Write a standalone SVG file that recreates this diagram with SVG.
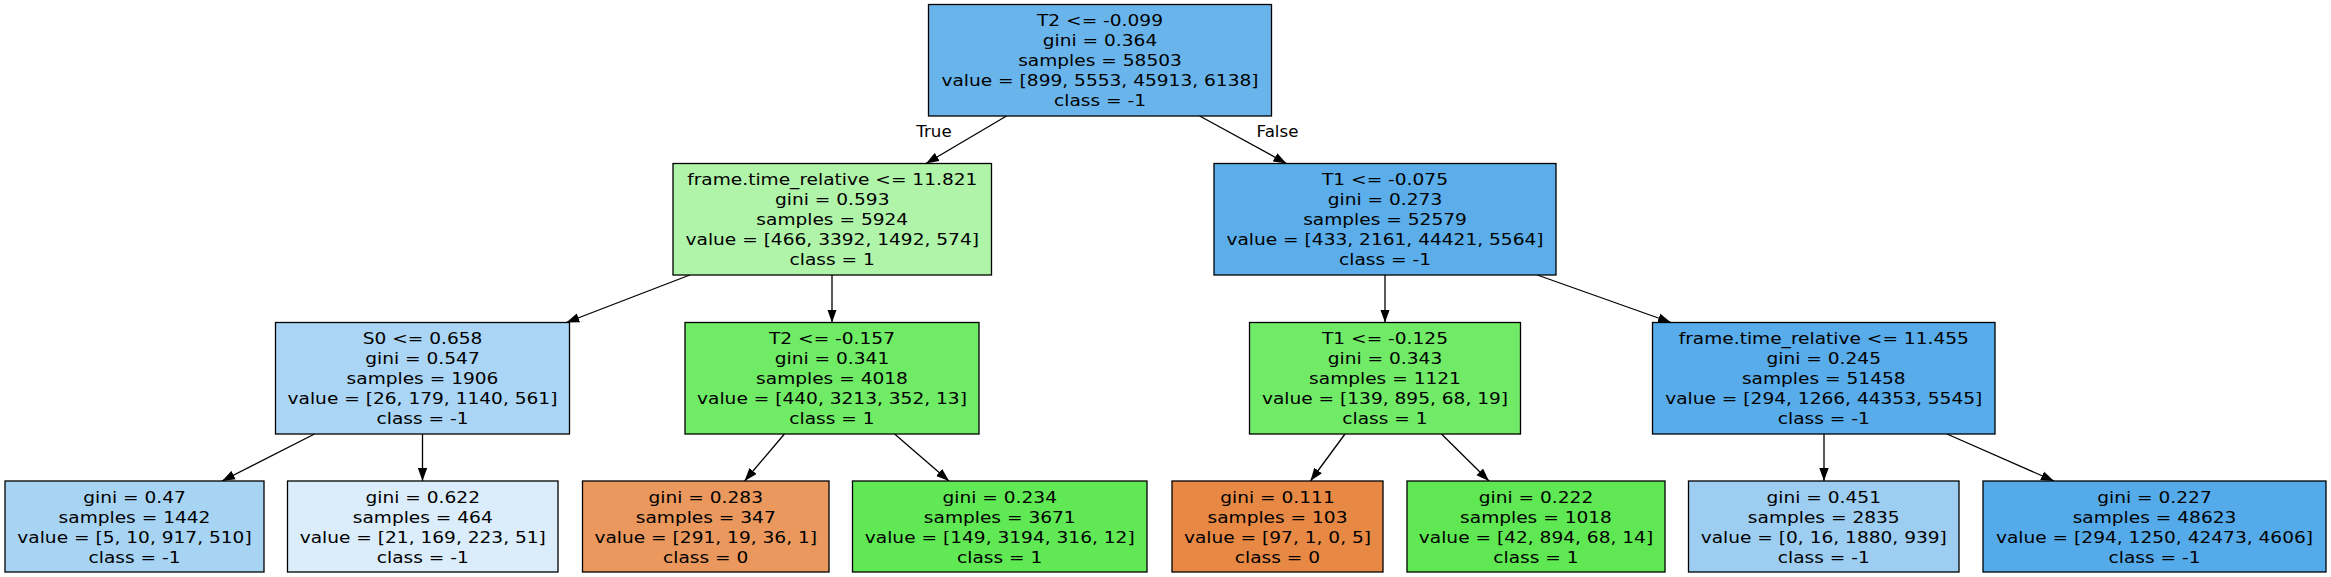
<svg xmlns="http://www.w3.org/2000/svg" width="2331" height="577" viewBox="0 0 2331 577">
<style>
rect.n{stroke:#000;stroke-width:1.3}
text{font-family:"DejaVu Sans","Liberation Sans",sans-serif;font-size:16.67px;text-anchor:middle;fill:#000}
.e line{stroke:#000;stroke-width:1.3;marker-end:url(#ah)}
</style>
<defs>
<marker id="ah" markerUnits="userSpaceOnUse" markerWidth="13" markerHeight="10" refX="13" refY="5" orient="auto" viewBox="0 0 13 10">
<path d="M0,0.3 L13,5 L0,9.7 z" fill="#000"/>
</marker>
</defs>
<rect width="2331" height="577" fill="#fff"/>
<g id="connectors" class="e">
<line x1="1006.5" y1="116" x2="926" y2="163.5"/>
<line x1="1199.7" y1="116" x2="1286.5" y2="163.5"/>
<line x1="689.8" y1="275" x2="566.3" y2="322.5"/>
<line x1="832" y1="275" x2="832" y2="322.5"/>
<line x1="1385" y1="275" x2="1385" y2="322.5"/>
<line x1="1537.3" y1="275" x2="1671" y2="322.5"/>
<line x1="314.5" y1="434" x2="222" y2="481"/>
<line x1="422.5" y1="434" x2="422.5" y2="481"/>
<line x1="784.4" y1="434" x2="744.6" y2="481"/>
<line x1="894.6" y1="434" x2="949" y2="481"/>
<line x1="1345" y1="434" x2="1310.4" y2="481"/>
<line x1="1441.5" y1="434" x2="1489" y2="481"/>
<line x1="1824" y1="434" x2="1824" y2="481"/>
<line x1="1947" y1="434" x2="2054" y2="481"/>
<text x="934" y="136.5">True</text>
<text x="1277.5" y="136.5">False</text>
</g>
<g id="n0">
<rect class="n" x="928.5" y="4.5" width="343" height="111.5" fill="#69b5eb"/>
<g transform="translate(1100,0) scale(1.115,1)">
<text x="0" y="26">T2 &lt;= -0.099</text>
<text x="0" y="46">gini = 0.364</text>
<text x="0" y="66">samples = 58503</text>
<text x="0" y="86">value = [899, 5553, 45913, 6138]</text>
<text x="0" y="106">class = -1</text>
</g>
</g>
<g id="n1">
<rect class="n" x="673" y="163.5" width="318.5" height="111.5" fill="#b0f4aa"/>
<g transform="translate(832.25,0) scale(1.115,1)">
<text x="0" y="185">frame.time_relative &lt;= 11.821</text>
<text x="0" y="205">gini = 0.593</text>
<text x="0" y="225">samples = 5924</text>
<text x="0" y="245">value = [466, 3392, 1492, 574]</text>
<text x="0" y="265">class = 1</text>
</g>
</g>
<g id="n8">
<rect class="n" x="1214" y="163.5" width="342" height="111.5" fill="#5baee9"/>
<g transform="translate(1385,0) scale(1.115,1)">
<text x="0" y="185">T1 &lt;= -0.075</text>
<text x="0" y="205">gini = 0.273</text>
<text x="0" y="225">samples = 52579</text>
<text x="0" y="245">value = [433, 2161, 44421, 5564]</text>
<text x="0" y="265">class = -1</text>
</g>
</g>
<g id="n2">
<rect class="n" x="275.5" y="322.5" width="294" height="111.5" fill="#aad5f4"/>
<g transform="translate(422.5,0) scale(1.115,1)">
<text x="0" y="344">S0 &lt;= 0.658</text>
<text x="0" y="364">gini = 0.547</text>
<text x="0" y="384">samples = 1906</text>
<text x="0" y="404">value = [26, 179, 1140, 561]</text>
<text x="0" y="424">class = -1</text>
</g>
</g>
<g id="n5">
<rect class="n" x="685" y="322.5" width="294" height="111.5" fill="#70eb66"/>
<g transform="translate(832,0) scale(1.115,1)">
<text x="0" y="344">T2 &lt;= -0.157</text>
<text x="0" y="364">gini = 0.341</text>
<text x="0" y="384">samples = 4018</text>
<text x="0" y="404">value = [440, 3213, 352, 13]</text>
<text x="0" y="424">class = 1</text>
</g>
</g>
<g id="n9">
<rect class="n" x="1249.5" y="322.5" width="271" height="111.5" fill="#71eb67"/>
<g transform="translate(1385,0) scale(1.115,1)">
<text x="0" y="344">T1 &lt;= -0.125</text>
<text x="0" y="364">gini = 0.343</text>
<text x="0" y="384">samples = 1121</text>
<text x="0" y="404">value = [139, 895, 68, 19]</text>
<text x="0" y="424">class = 1</text>
</g>
</g>
<g id="n12">
<rect class="n" x="1652.5" y="322.5" width="342.5" height="111.5" fill="#58ace9"/>
<g transform="translate(1823.75,0) scale(1.115,1)">
<text x="0" y="344">frame.time_relative &lt;= 11.455</text>
<text x="0" y="364">gini = 0.245</text>
<text x="0" y="384">samples = 51458</text>
<text x="0" y="404">value = [294, 1266, 44353, 5545]</text>
<text x="0" y="424">class = -1</text>
</g>
</g>
<g id="n3">
<rect class="n" x="5" y="481" width="259" height="91" fill="#a8d4f4"/>
<g transform="translate(134.5,0) scale(1.115,1)">
<text x="0" y="503">gini = 0.47</text>
<text x="0" y="523">samples = 1442</text>
<text x="0" y="543">value = [5, 10, 917, 510]</text>
<text x="0" y="563">class = -1</text>
</g>
</g>
<g id="n4">
<rect class="n" x="287.5" y="481" width="270.5" height="91" fill="#dbedfa"/>
<g transform="translate(422.75,0) scale(1.115,1)">
<text x="0" y="503">gini = 0.622</text>
<text x="0" y="523">samples = 464</text>
<text x="0" y="543">value = [21, 169, 223, 51]</text>
<text x="0" y="563">class = -1</text>
</g>
</g>
<g id="n6">
<rect class="n" x="582.5" y="481" width="246.5" height="91" fill="#ea985d"/>
<g transform="translate(705.75,0) scale(1.115,1)">
<text x="0" y="503">gini = 0.283</text>
<text x="0" y="523">samples = 347</text>
<text x="0" y="543">value = [291, 19, 36, 1]</text>
<text x="0" y="563">class = 0</text>
</g>
</g>
<g id="n7">
<rect class="n" x="852.5" y="481" width="294.5" height="91" fill="#61e955"/>
<g transform="translate(999.75,0) scale(1.115,1)">
<text x="0" y="503">gini = 0.234</text>
<text x="0" y="523">samples = 3671</text>
<text x="0" y="543">value = [149, 3194, 316, 12]</text>
<text x="0" y="563">class = 1</text>
</g>
</g>
<g id="n10">
<rect class="n" x="1172" y="481" width="211" height="91" fill="#e78945"/>
<g transform="translate(1277.5,0) scale(1.115,1)">
<text x="0" y="503">gini = 0.111</text>
<text x="0" y="523">samples = 103</text>
<text x="0" y="543">value = [97, 1, 0, 5]</text>
<text x="0" y="563">class = 0</text>
</g>
</g>
<g id="n11">
<rect class="n" x="1407" y="481" width="258" height="91" fill="#5fe853"/>
<g transform="translate(1536,0) scale(1.115,1)">
<text x="0" y="503">gini = 0.222</text>
<text x="0" y="523">samples = 1018</text>
<text x="0" y="543">value = [42, 894, 68, 14]</text>
<text x="0" y="563">class = 1</text>
</g>
</g>
<g id="n13">
<rect class="n" x="1688.5" y="481" width="270.5" height="91" fill="#9dcef2"/>
<g transform="translate(1823.75,0) scale(1.115,1)">
<text x="0" y="503">gini = 0.451</text>
<text x="0" y="523">samples = 2835</text>
<text x="0" y="543">value = [0, 16, 1880, 939]</text>
<text x="0" y="563">class = -1</text>
</g>
</g>
<g id="n14">
<rect class="n" x="1983" y="481" width="343" height="91" fill="#55abe9"/>
<g transform="translate(2154.5,0) scale(1.115,1)">
<text x="0" y="503">gini = 0.227</text>
<text x="0" y="523">samples = 48623</text>
<text x="0" y="543">value = [294, 1250, 42473, 4606]</text>
<text x="0" y="563">class = -1</text>
</g>
</g>
</svg>
